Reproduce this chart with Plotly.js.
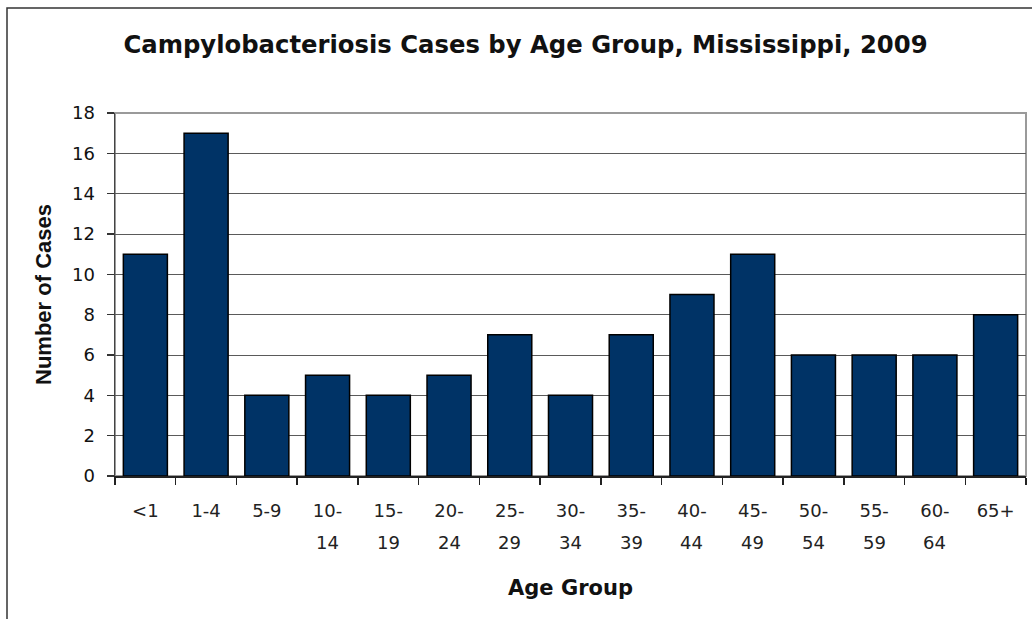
<!DOCTYPE html>
<html>
<head>
<meta charset="utf-8">
<script src="https://cdn.plot.ly/plotly-3.0.1.min.js"></script>
<style>
  html, body { margin: 0; padding: 0; background: #ffffff; }
  #chart { width: 1032px; height: 619px; }
</style>
</head>
<body>
<div id="chart"></div>
<script>
// ---- Data ----
const categories = ["<1", "1-4", "5-9", "10-14", "15-19", "20-24", "25-29", "30-34", "35-39", "40-44", "45-49", "50-54", "55-59", "60-64", "65+"];
const cases = [11, 17, 4, 5, 4, 5, 7, 4, 7, 9, 11, 6, 6, 6, 8];
const labelLine1 = ["&lt;1", "1-4", "5-9", "10-", "15-", "20-", "25-", "30-", "35-", "40-", "45-", "50-", "55-", "60-", "65+"];
const labelLine2 = ["", "", "", "14", "19", "24", "29", "34", "39", "44", "49", "54", "59", "64", ""];
const yTicks = [0, 2, 4, 6, 8, 10, 12, 14, 16, 18];

const chartTitle = "Campylobacteriosis Cases by Age Group, Mississippi, 2009";
const xTitle = "Age Group";
const yTitle = "Number of Cases";

// ---- Layout geometry (pixels) ----
const W = 1032, H = 619;
const mL = 115, mR = 6, mT = 113, mB = 143;
const pw = W - mL - mR, ph = H - mT - mB;
const px = x => (x - mL) / pw;
const py = y => (H - mB - y) / ph;

const trace = {
  type: "bar",
  x: categories,
  y: cases,
  marker: { color: "#003366", line: { color: "#000000", width: 1.5 } },
  hoverinfo: "x+y"
};

const annotations = categories.map((c, i) => ({
  x: c, xref: "x",
  y: 0, yref: "paper",
  yshift: -66,
  text: labelLine2[i],
  showarrow: false,
  xanchor: "center", yanchor: "middle",
  font: { family: "DejaVu Sans", size: 18, color: "#222222" }
})).filter(a => a.text !== "");

const layout = {
  width: W, height: H,
  margin: { l: mL, r: mR, t: mT, b: mB, pad: 0 },
  paper_bgcolor: "#ffffff",
  plot_bgcolor: "#ffffff",
  showlegend: false,
  bargap: 0.275,
  title: {
    text: "<b>" + chartTitle + "</b>",
    font: { family: "DejaVu Sans", size: 24.3, color: "#111111" },
    xref: "container", x: 525.5 / W, xanchor: "center",
    yref: "container", y: 1 - 44 / H, yanchor: "middle"
  },
  xaxis: {
    type: "category",
    categoryorder: "array",
    categoryarray: categories,
    tickmode: "array",
    tickvals: categories,
    ticktext: labelLine1,
    tickson: "boundaries",
    range: [-0.5, 14.5],
    ticks: "outside", ticklen: 7, tickcolor: "#222222", tickwidth: 1.5,
    ticklabelstandoff: 18,
    showline: true, linecolor: "#222222", linewidth: 1.5,
    showgrid: false, zeroline: false,
    tickfont: { family: "DejaVu Sans", size: 18, color: "#222222" },
    title: {
      text: "<b>" + xTitle + "</b>",
      font: { family: "DejaVu Sans", size: 21, color: "#111111" },
      standoff: 60
    },
    automargin: false,
    fixedrange: true
  },
  yaxis: {
    range: [0, 18],
    tickmode: "array",
    tickvals: yTicks,
    ticktext: yTicks.map(String),
    ticks: "outside", ticklen: 7, tickcolor: "#333333", tickwidth: 1.5,
    ticklabelstandoff: 8,
    showline: true, linecolor: "#444444", linewidth: 1.5,
    showgrid: true, gridcolor: "#5a5a5a", gridwidth: 1,
    zeroline: false,
    tickfont: { family: "DejaVu Sans", size: 18, color: "#111111" },
    title: {
      text: "<b>" + yTitle + "</b>",
      font: { family: "Liberation Sans", size: 22, color: "#111111" },
      standoff: 14
    },
    automargin: false,
    fixedrange: true
  },
  annotations: annotations,
  shapes: [
    {
      type: "rect", xref: "paper", yref: "paper",
      x0: 0, x1: 1, y0: 0, y1: 1,
      line: { color: "#9a9a9a", width: 2 },
      layer: "below"
    },
    {
      type: "rect", xref: "paper", yref: "paper",
      x0: px(7), x1: px(1100), y0: py(700), y1: py(8),
      line: { color: "#333333", width: 1.5 },
      fillcolor: "rgba(0,0,0,0)",
      layer: "above"
    }
  ]
};

Plotly.newPlot("chart", [trace], layout, { displayModeBar: false, staticPlot: true });
</script>
</body>
</html>
